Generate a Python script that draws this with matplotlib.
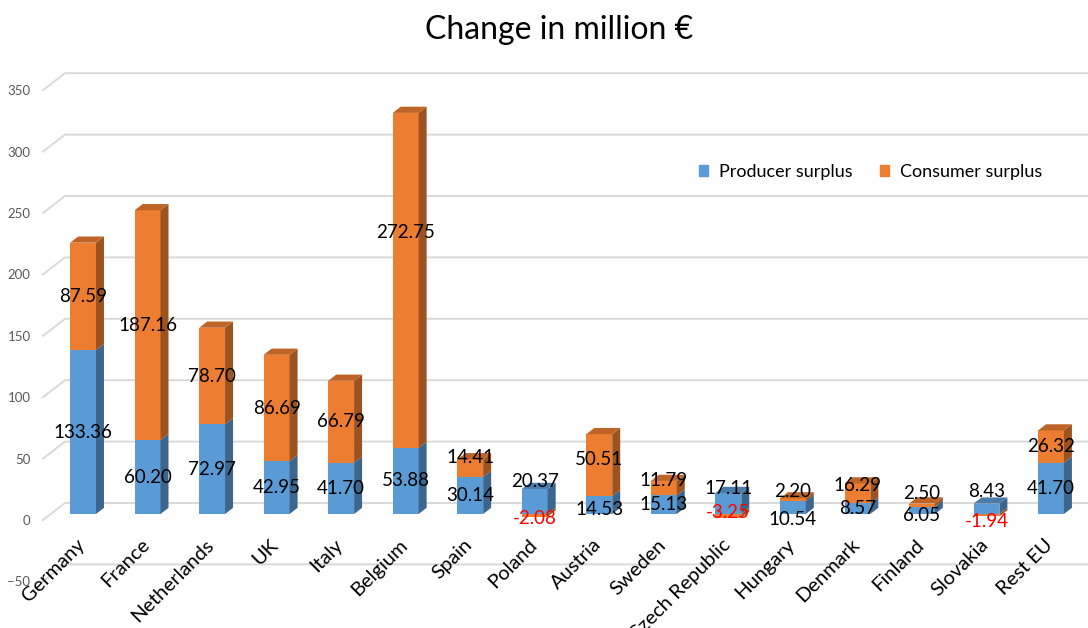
import numpy as np
import matplotlib
matplotlib.use("Agg")
import matplotlib.pyplot as plt
from matplotlib.transforms import ScaledTranslation
from matplotlib.patches import Polygon, Patch

plt.rcParams["font.family"] = ["Lato", "DejaVu Sans"]

# ---- data -------------------------------------------------------------
countries = ["Germany", "France", "Netherlands", "UK", "Italy", "Belgium",
             "Spain", "Poland", "Austria", "Sweden", "Czech Republic",
             "Hungary", "Denmark", "Finland", "Slovakia", "Rest EU"]
producer = [133.36, 60.20, 72.97, 42.95, 41.70, 53.88, 30.14, 20.37,
            14.53, 15.13, 17.11, 10.54, 8.57, 6.05, 8.43, 41.70]
consumer = [87.59, 187.16, 78.70, 86.69, 66.79, 272.75, 14.41, -2.08,
            50.51, 11.79, -3.25, 2.20, 16.29, 2.50, -1.94, 26.32]
y_ticks = [-50, 0, 50, 100, 150, 200, 250, 300, 350]

# vertical nudges (pixels, up = positive) for the value labels
producer_lift = [0, 0, 0, 0, 0, 0, 0, 20, -4, 0, 15, -12, 0, -5, 17, 0]
consumer_lift = [0, 0, 0, 0, 0, 48, 11, -3, 6, 8, 3, 8, 8, 12, -6, 0]

# ---- styling ----------------------------------------------------------
BLUE = np.array([0x5B, 0x9B, 0xD5]) / 255
ORANGE = np.array([0xED, 0x7D, 0x31]) / 255
SIDE_SHADE, TOP_SHADE = 0.66, 0.80
GRID = "#D9D9D9"

W, H, DPI = 1088, 628, 100
CAT_PX = 64.53          # pixels between categories
bar_w = 0.40

fig = plt.figure(figsize=(W / DPI, H / DPI), dpi=DPI)
front_top, front_bottom = 90.2, 581.4   # pixel rows of 350 and -50 on the front plane
ax = fig.add_axes([43 / W, (H - front_bottom) / H, (W - 43) / W,
                   (front_bottom - front_top) / H])
ax.set_xlim(-0.5, -0.5 + (W - 43) / CAT_PX)
ax.set_ylim(y_ticks[0], y_ticks[-1])
val_px = (front_bottom - front_top) / (y_ticks[-1] - y_ticks[0])

for s in ax.spines.values():
    s.set_visible(False)
ax.set_xticks([])
ax.set_yticks(y_ticks)
ax.tick_params(axis="y", length=0, pad=9, labelsize=9.5, labelcolor="#595959")

# back-wall gridlines with the diagonal on the side wall
wall_dx, wall_dy = 22 / CAT_PX, 17 / val_px
for v in y_ticks:
    ax.plot([-0.5, -0.5 + wall_dx, 40], [v, v + wall_dy, v + wall_dy],
            color=GRID, lw=1.4, clip_on=False, zorder=0)

# bars sit a little behind the front plane
bar_tr = ax.transData + ScaledTranslation(7.8 / DPI, 6 / DPI, fig.dpi_scale_trans)
depth_dx, depth_dy = 8 / CAT_PX, 6.2 / val_px

x = np.arange(len(countries))
prod = np.array(producer)
cons = np.array(consumer)
cons_bottom = np.where(cons >= 0, prod, 0.0)

bars_p = ax.bar(x, prod, width=bar_w, color=BLUE, zorder=2, label="Producer surplus")
bars_c = ax.bar(x, cons, bottom=cons_bottom, width=bar_w, color=ORANGE, zorder=2,
                label="Consumer surplus")
for r in list(bars_p) + list(bars_c):
    r.set_transform(bar_tr)


def side_face(xc, b, t, col):
    xr = xc + bar_w / 2
    pts = [(xr, b), (xr + depth_dx, b + depth_dy), (xr + depth_dx, t + depth_dy), (xr, t)]
    ax.add_patch(Polygon(pts, closed=True, facecolor=col * SIDE_SHADE,
                         edgecolor="none", transform=bar_tr, zorder=2))


def top_face(xc, t, col):
    xl, xr = xc - bar_w / 2, xc + bar_w / 2
    pts = [(xl, t), (xl + depth_dx, t + depth_dy), (xr + depth_dx, t + depth_dy), (xr, t)]
    ax.add_patch(Polygon(pts, closed=True, facecolor=col * TOP_SHADE,
                         edgecolor="none", transform=bar_tr, zorder=2))


for i in range(len(countries)):
    p, c, cb = prod[i], cons[i], cons_bottom[i]
    side_face(x[i], 0, p, BLUE)
    side_face(x[i], min(cb, cb + c), max(cb, cb + c), ORANGE)
    if c >= 0:
        top_face(x[i], p + c, ORANGE)
    else:
        top_face(x[i], p, BLUE)

# value labels
for i in range(len(countries)):
    for val, mid, lift in ((prod[i], prod[i] / 2, producer_lift[i]),
                           (cons[i], cons_bottom[i] + cons[i] / 2, consumer_lift[i])):
        tr = bar_tr + ScaledTranslation(0, lift / DPI, fig.dpi_scale_trans)
        ax.text(x[i], mid, f"{val:.2f}", transform=tr, ha="center", va="center",
                fontsize=13.5, color="red" if val < 0 else "black", zorder=5)

# category labels
cat_tr = ax.transData + ScaledTranslation(7 / DPI, -22 / DPI, fig.dpi_scale_trans)
for i, name in enumerate(countries):
    ax.text(x[i], 0, name, transform=cat_tr, rotation=45, ha="right", va="center",
            rotation_mode="anchor", fontsize=14.5, color="black")

fig.legend(handles=[Patch(color=BLUE, label="Producer surplus"),
                    Patch(color=ORANGE, label="Consumer surplus")],
           ncol=2, frameon=False, loc="center left",
           bbox_to_anchor=(683 / W, 1 - 172 / H), handlelength=0.5,
           handleheight=0.5, handletextpad=0.6, columnspacing=1.5, fontsize=13)

fig.text(559 / W, 1 - 30 / H, "Change in million €", ha="center", va="center",
         fontsize=23)

fig.savefig("out.png", dpi=DPI)
